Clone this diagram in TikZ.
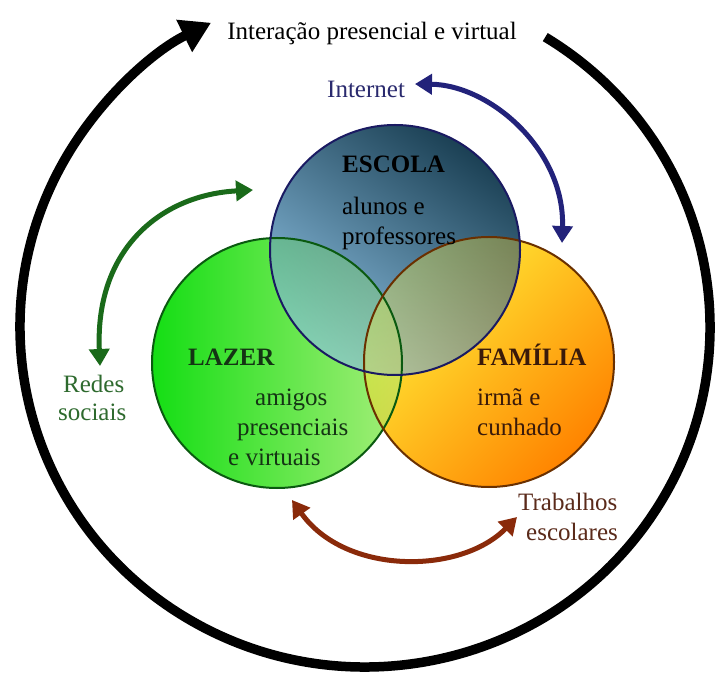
\documentclass[tikz,border=0pt]{standalone}
\usepackage{fontspec}
\setmainfont{Liberation Serif}
\usetikzlibrary{arrows.meta}
\definecolor{esDark}{HTML}{1B4054}
\definecolor{esLight}{HTML}{8CC0E2}
\definecolor{esLine}{HTML}{1A1A62}
\definecolor{lzA}{HTML}{14DE14}
\definecolor{lzB}{HTML}{A6EE7A}
\definecolor{lzLine}{HTML}{0A5A10}
\definecolor{fmA}{HTML}{FFF23A}
\definecolor{fmB}{HTML}{FF8400}
\definecolor{fmLine}{HTML}{6A3000}
\definecolor{netBlue}{HTML}{22227A}
\definecolor{redeGreen}{HTML}{1A6A1A}
\definecolor{trabBrown}{HTML}{8A2A0A}
\definecolor{txtNet}{HTML}{2A2A6E}
\definecolor{txtGreen}{HTML}{2E6A2E}
\definecolor{txtBrown}{HTML}{5A2A1A}
\definecolor{txtLz}{HTML}{143414}
\definecolor{txtFm}{HTML}{3A1A0A}
\begin{document}
\begin{tikzpicture}[x=1pt,y=1pt,
  lbl/.style={font=\fontsize{25}{28}\selectfont, inner sep=0pt, anchor=base west},
  hdr/.style={lbl, font=\fontsize{25}{28}\selectfont\bfseries},
  ring/.style={line width=9.5pt, -{Triangle[length=30pt,width=34pt]}},
  link/.style={line width=5pt, {Triangle[length=17pt,width=20pt]}-{Triangle[length=17pt,width=20pt]}},
  rim/.style={line width=2pt}]
\useasboundingbox (0,0) rectangle (725,675);
\fill[white] (0,0) rectangle (725,675);

\coordinate (cB) at (365,348);
\coordinate (cE) at (395,425);
\coordinate (cL) at (277,312);
\coordinate (cF) at (489,313);

% outer ring
\path (cB) ++(58.5:345pt and 340pt) coordinate (bs);
\draw[ring] (bs) arc[start angle=58.5, end angle=-243.5, x radius=345pt, y radius=340pt];

% Venn circles
\shade[left color=lzA, right color=lzB] (cL) circle[radius=125pt];
\shade[top color=fmA, bottom color=fmB, shading angle=45] (cF) circle[radius=125pt];
\begin{scope}
  \clip (cF) circle[radius=125pt];
  \shade[left color=lzA, right color=lzB, fill opacity=0.5] (cL) circle[radius=125pt];
\end{scope}
\shade[top color=esDark, bottom color=esLight, shading angle=-35] (cE) circle[radius=125pt];
\begin{scope}
  \clip (cE) circle[radius=125pt];
  \shade[left color=lzA, right color=lzB, fill opacity=0.35] (cL) circle[radius=125pt];
  \shade[top color=fmA, bottom color=fmB, shading angle=45, fill opacity=0.35] (cF) circle[radius=125pt];
\end{scope}
\draw[rim, draw=lzLine] (cL) circle[radius=125pt];
\draw[rim, draw=fmLine] (cF) circle[radius=125pt];
\draw[rim, draw=esLine] (cE) circle[radius=125pt];

% texts
\node[lbl, anchor=base] (title) at (372,635) {Interação presencial e virtual};
\node[lbl, text=txtNet] (net) at (327,577) {Internet};
\node[hdr] (esc) at (342,502) {ESCOLA};
\node[lbl] (esc1) at (342,460) {alunos e};
\node[lbl] (esc2) at (342,430) {professores};
\node[hdr, text=txtLz] (laz) at (188,309) {LAZER};
\node[lbl, text=txtLz] (laz1) at (255,269) {amigos};
\node[lbl, text=txtLz] (laz2) at (237,239) {presenciais};
\node[lbl, text=txtLz] (laz3) at (228,210) {e virtuais};
\node[hdr, text=txtFm] (fam) at (477,309) {FAMÍLIA};
\node[lbl, text=txtFm] (fam1) at (477,269) {irmã e};
\node[lbl, text=txtFm] (fam2) at (477,240) {cunhado};
\node[lbl, text=txtGreen] (red1) at (63,282) {Redes};
\node[lbl, text=txtGreen] (red2) at (58,254) {sociais};
\node[lbl, text=txtBrown] (tra1) at (518,165) {Trabalhos};
\node[lbl, text=txtBrown] (tra2) at (526,135) {escolares};

% connectors
\coordinate (nA) at (415,591);
\coordinate (nB) at (562,432);
\coordinate (gA) at (100,309);
\coordinate (gB) at (253,485);
\coordinate (bA) at (292,175);
\coordinate (bB) at (517,158);
\draw[link, draw=netBlue] (nA) .. controls (490,590) and (565,525) .. (nB);
\draw[link, draw=redeGreen] (gA) .. controls (95,425) and (160,480) .. (gB);
\draw[link, draw=trabBrown] (bA) .. controls (345,100) and (460,100) .. (bB);
\end{tikzpicture}
\end{document}
